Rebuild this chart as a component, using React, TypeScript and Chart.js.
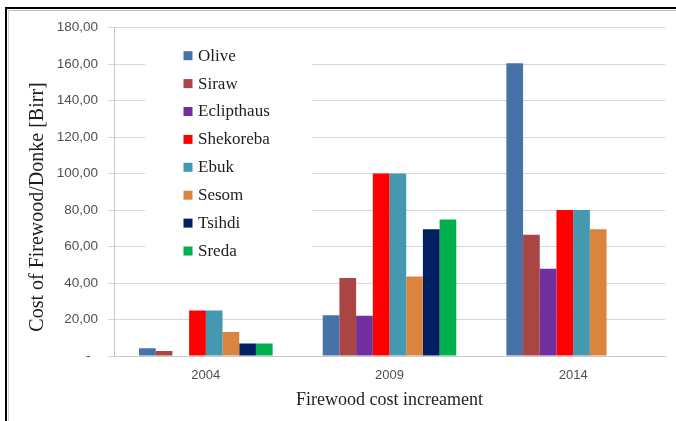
import React, { useEffect, useRef } from "react";
import { Chart, registerables } from "chart.js";

Chart.register(...registerables);

// Categories (survey years)
const years = ["2004", "2009", "2014"];

// Cost of firewood per donkey load [Birr], one array per locality
const olive = [4.2, 22.3, 160.4];
const siraw = [2.7, 42.8, 66.5];
const eclipthaus = [null, 22, 47.8];
const shekoreba = [25, 100, 80];
const ebuk = [25, 100, 80];
const sesom = [13.2, 43.5, 69.5];
const tsihdi = [6.8, 69.5, null];
const sreda = [6.8, 74.8, null];

const seriesNames = ["Olive", "Siraw", "Eclipthaus", "Shekoreba", "Ebuk", "Sesom", "Tsihdi", "Sreda"];
const seriesValues = [olive, siraw, eclipthaus, shekoreba, ebuk, sesom, tsihdi, sreda];
const seriesColors = ["#4672A8", "#A94543", "#7030A0", "#FF0000", "#4498B0", "#DB843D", "#002060", "#00B050"];

// Value axis
const yMin = 0;
const yMax = 180;
const yStep = 20;
const yTitle = "Cost of Firewood/Donke [Birr]";
const xTitle = "Firewood cost increament";

const SERIF = '"Liberation Serif", "Times New Roman", serif';
const SANS = '"Liberation Sans", Arial, sans-serif';

// Legend drawn inside the plot area, in a white box that hides the grid behind it,
// plus the value-axis title placed beside the tick labels
const chartDecor = {
  id: "chartDecor",
  afterDraw(chart: any) {
    const ctx = chart.ctx as CanvasRenderingContext2D;
    ctx.save();
    ctx.fillStyle = "#ffffff";
    ctx.fillRect(145, 40, 167, 226);
    ctx.font = `normal normal 17px ${SERIF}`;
    ctx.textAlign = "left";
    ctx.textBaseline = "middle";
    chart.data.datasets.forEach((ds: any, i: number) => {
      const cy = 55.7 + 27.9 * i;
      ctx.fillStyle = ds.backgroundColor;
      ctx.fillRect(183.5, cy - 4.5, 9, 9);
      ctx.fillStyle = "#1e1e1e";
      ctx.fillText(ds.label, 198, cy + 0.5);
    });
    ctx.restore();

    ctx.save();
    ctx.translate(38, 207);
    ctx.rotate(-Math.PI / 2);
    ctx.font = `normal normal 20px ${SERIF}`;
    ctx.textAlign = "center";
    ctx.textBaseline = "middle";
    ctx.fillStyle = "#1e1e1e";
    ctx.fillText(yTitle, 0, 0);
    ctx.restore();
  },
};

export default function App() {
  const canvasRef = useRef<HTMLCanvasElement | null>(null);

  useEffect(() => {
    const canvas = canvasRef.current;
    if (!canvas) return;

    const chart = new Chart(canvas, {
      type: "bar",
      data: {
        labels: years,
        datasets: seriesNames.map((name, i) => ({
          label: name,
          data: seriesValues[i],
          backgroundColor: seriesColors[i],
          borderWidth: 0,
          categoryPercentage: 8 / 11,
          barPercentage: 1,
        })),
      },
      options: {
        responsive: false,
        animation: false,
        layout: { padding: { top: 27.5, right: 11, bottom: 0, left: 0 } },
        plugins: {
          legend: { display: false },
          tooltip: { enabled: false },
          title: { display: false },
        },
        scales: {
          x: {
            grid: { display: false, drawTicks: false },
            border: { display: true, color: "#c8c8c8", width: 1 },
            ticks: {
              color: "#505050",
              font: { family: SANS, size: 13 },
              padding: 12,
            },
            title: {
              display: true,
              text: xTitle,
              color: "#1e1e1e",
              font: { family: SERIF, size: 18 },
              padding: { top: 0, bottom: 10 },
            },
            afterFit(scale: any) {
              scale.height = 65;
            },
          },
          y: {
            min: yMin,
            max: yMax,
            grid: { color: "#d6d6d6", lineWidth: 1, drawTicks: true, tickLength: 6 },
            border: { display: true, color: "#c8c8c8", width: 1 },
            ticks: {
              stepSize: yStep,
              color: "#505050",
              font: { family: SANS, size: 13.5 },
              padding: 10,
              callback: (v: any) => (Number(v) === 0 ? "-  " : Number(v).toFixed(2).replace(".", ",")),
            },
            title: { display: false },
            afterFit(scale: any) {
              scale.width = 114;
            },
          },
        },
      },
      plugins: [chartDecor],
    });

    return () => chart.destroy();
  }, []);

  return (
    <div style={{ position: "fixed", left: 0, top: 0, width: 676, height: 421, overflow: "hidden", background: "#fff" }}>
      <canvas ref={canvasRef} width={676} height={421} style={{ display: "block", position: "absolute", left: 0, top: 0 }} />
      <div style={{ position: "absolute", left: 5, top: 7, width: 671, height: 2, background: "#000" }} />
      <div style={{ position: "absolute", left: 5, top: 7, width: 2, height: 414, background: "#000" }} />
      <div style={{ position: "absolute", left: 8, top: 10, width: 668, height: 1, background: "#bdbdbd" }} />
      <div style={{ position: "absolute", left: 8, top: 10, width: 1, height: 411, background: "#d0d0d0" }} />
    </div>
  );
}
